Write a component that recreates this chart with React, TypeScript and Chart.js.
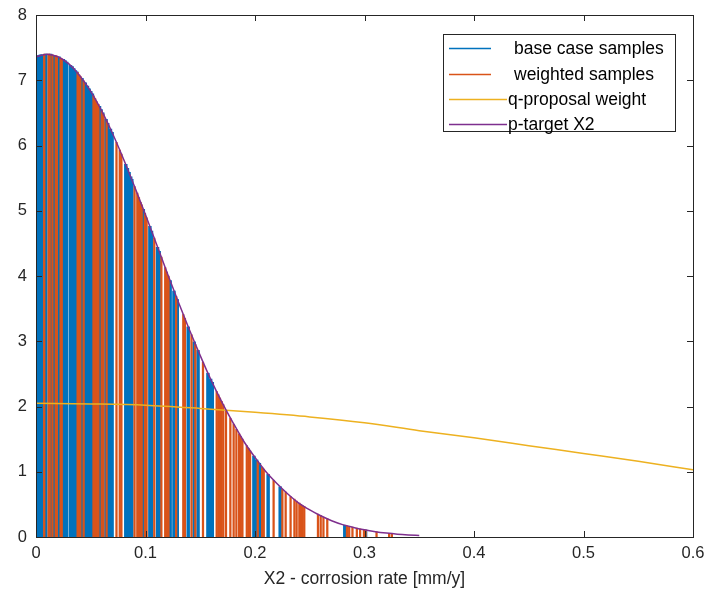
import React, { useEffect, useRef } from "react";
import { Chart, registerables } from "chart.js";

Chart.register(...registerables);

const FONT = '"Liberation Sans", Arial, Helvetica, sans-serif';

// sample positions (mm/y) and their heights (pdf value at sample)
const blueX = [0.0008, 0.0025, 0.004, 0.0055, 0.009, 0.0133, 0.0165, 0.021, 0.025, 0.0265, 0.028, 0.0315, 0.033, 0.0345, 0.036, 0.0372, 0.042, 0.045, 0.047, 0.0485, 0.05, 0.0515, 0.058, 0.0595, 0.061, 0.064, 0.0655, 0.068, 0.0695, 0.082, 0.0835, 0.085, 0.0865, 0.0875, 0.098, 0.104, 0.1055, 0.111, 0.1125, 0.1225, 0.126, 0.129, 0.139, 0.1445, 0.148, 0.157, 0.1595, 0.161, 0.199, 0.2015, 0.204, 0.212, 0.223, 0.282, 0.301];
const blueH = [7.37, 7.38, 7.39, 7.39, 7.40, 7.40, 7.38, 7.36, 7.32, 7.30, 7.28, 7.23, 7.21, 7.18, 7.15, 7.13, 7.03, 6.96, 6.91, 6.87, 6.83, 6.79, 6.60, 6.55, 6.50, 6.40, 6.34, 6.25, 6.20, 5.71, 5.65, 5.59, 5.52, 5.48, 5.02, 4.76, 4.69, 4.44, 4.38, 3.93, 3.77, 3.64, 3.22, 2.99, 2.86, 2.51, 2.42, 2.37, 1.24, 1.18, 1.13, 0.96, 0.77, 0.18, 0.107];

const orangeX = [0.0075, 0.0115, 0.0125, 0.015, 0.018, 0.019, 0.0225, 0.0235, 0.038, 0.0395, 0.0405, 0.0435, 0.0525, 0.054, 0.0555, 0.057, 0.06, 0.0615, 0.0645, 0.0735, 0.0765, 0.078, 0.09, 0.0925, 0.094, 0.0955, 0.0965, 0.0995, 0.101, 0.108, 0.1145, 0.118, 0.1195, 0.121, 0.128, 0.1345, 0.136, 0.142, 0.1455, 0.1525, 0.165, 0.1665, 0.168, 0.1695, 0.171, 0.1735, 0.1775, 0.1805, 0.183, 0.1855, 0.187, 0.1885, 0.1925, 0.194, 0.1955, 0.2025, 0.2065, 0.208, 0.217, 0.225, 0.228, 0.2325, 0.236, 0.238, 0.2405, 0.242, 0.2435, 0.245, 0.2575, 0.26, 0.2625, 0.266, 0.284, 0.286, 0.289, 0.293, 0.296, 0.2995, 0.301, 0.311, 0.3225, 0.325];
const orangeH = [7.40, 7.40, 7.40, 7.39, 7.38, 7.37, 7.34, 7.33, 7.12, 7.08, 7.06, 6.99, 6.76, 6.72, 6.67, 6.63, 6.53, 6.48, 6.38, 6.05, 5.93, 5.87, 5.37, 5.27, 5.20, 5.13, 5.09, 4.96, 4.89, 4.58, 4.29, 4.13, 4.06, 4.00, 3.69, 3.41, 3.35, 3.10, 2.95, 2.68, 2.23, 2.18, 2.13, 2.08, 2.03, 1.94, 1.82, 1.73, 1.65, 1.58, 1.54, 1.50, 1.40, 1.36, 1.32, 1.16, 1.07, 1.04, 0.87, 0.73, 0.69, 0.62, 0.58, 0.55, 0.52, 0.50, 0.48, 0.47, 0.35, 0.33, 0.30, 0.28, 0.17, 0.16, 0.15, 0.135, 0.124, 0.11, 0.107, 0.08, 0.056, 0.052];

const qX = [0, 0.05, 0.1, 0.15, 0.2, 0.25, 0.3, 0.35, 0.4, 0.45, 0.5, 0.55, 0.6];
const qY = [2.05, 2.04, 2.02, 1.97, 1.91, 1.84, 1.75, 1.63, 1.52, 1.40, 1.28, 1.16, 1.03];

const pX = [0, 0.01, 0.02, 0.03, 0.04, 0.05, 0.06, 0.07, 0.08, 0.09, 0.1, 0.11, 0.12, 0.13, 0.14, 0.15, 0.16, 0.17, 0.18, 0.19, 0.2, 0.21, 0.22, 0.23, 0.24, 0.25, 0.26, 0.27, 0.28, 0.29, 0.3, 0.31, 0.32, 0.33, 0.34, 0.35];
const pY = [7.36, 7.40, 7.36, 7.25, 7.07, 6.83, 6.53, 6.18, 5.79, 5.37, 4.94, 4.49, 4.04, 3.60, 3.18, 2.78, 2.40, 2.06, 1.75, 1.46, 1.22, 1.00, 0.82, 0.66, 0.52, 0.415, 0.325, 0.25, 0.19, 0.147, 0.11, 0.082, 0.061, 0.044, 0.032, 0.023];

const xTicks = [0, 0.1, 0.2, 0.3, 0.4, 0.5, 0.6];
const yTicks = [0, 1, 2, 3, 4, 5, 6, 7, 8];
const seriesLabels = ["base case samples", "weighted samples", "q-proposal weight", "p-target X2"];
const seriesColors = ["#0072BD", "#D95319", "#EDB120", "#7E2F8E"];
const xTitle = "X2 - corrosion rate [mm/y]";

const AXIS = "#262626";

const axesPlugin = {
  id: "matlabAxes",
  afterDatasetsDraw(chart: any) {
    const { ctx, chartArea: a, scales } = chart;
    const tl = 6;
    ctx.save();
    ctx.strokeStyle = AXIS;
    ctx.lineWidth = 1;
    ctx.beginPath();
    for (const v of xTicks) {
      const px = Math.round(scales.x.getPixelForValue(v)) + 0.5;
      ctx.moveTo(px, a.bottom);
      ctx.lineTo(px, a.bottom - tl);
      ctx.moveTo(px, a.top);
      ctx.lineTo(px, a.top + tl);
    }
    for (const v of yTicks) {
      const py = Math.round(scales.y.getPixelForValue(v)) + 0.5;
      ctx.moveTo(a.left, py);
      ctx.lineTo(a.left + tl, py);
      ctx.moveTo(a.right, py);
      ctx.lineTo(a.right - tl, py);
    }
    ctx.stroke();
    ctx.strokeRect(Math.round(a.left) + 0.5, Math.round(a.top) + 0.5, Math.round(a.right - a.left), Math.round(a.bottom - a.top));
    ctx.restore();
  },
  afterDraw(chart: any) {
    const { ctx } = chart;
    const bx = 443, by = 34, bw = 232, bh = 97;
    ctx.save();
    ctx.fillStyle = "#ffffff";
    ctx.fillRect(bx, by, bw, bh);
    ctx.strokeStyle = AXIS;
    ctx.lineWidth = 1;
    ctx.strokeRect(bx + 0.5, by + 0.5, bw, bh);
    const rows = [48, 74, 99, 124];
    const lineEnd = [491, 491, 507, 507];
    const textX = [514, 514, 508, 508];
    ctx.font = `17.5px ${FONT}`;
    ctx.textBaseline = "middle";
    ctx.textAlign = "left";
    for (let i = 0; i < 4; i++) {
      ctx.strokeStyle = seriesColors[i];
      ctx.lineWidth = 1.5;
      ctx.beginPath();
      ctx.moveTo(449, rows[i] + 0.5);
      ctx.lineTo(lineEnd[i], rows[i] + 0.5);
      ctx.stroke();
      ctx.fillStyle = "#000000";
      ctx.fillText(seriesLabels[i], textX[i], rows[i] + 1);
    }
    ctx.restore();
  },
};

export default function App() {
  const ref = useRef<HTMLCanvasElement | null>(null);
  useEffect(() => {
    if (!ref.current) return;
    const chart = new Chart(ref.current, {
      type: "bar",
      data: {
        datasets: [
          {
            type: "bar",
            label: seriesLabels[0],
            data: blueX.map((x, i) => ({ x, y: blueH[i] })),
            backgroundColor: seriesColors[0],
            borderWidth: 0,
            barThickness: 2.8,
            grouped: false,
            order: 4,
          } as any,
          {
            type: "bar",
            label: seriesLabels[1],
            data: orangeX.map((x, i) => ({ x, y: orangeH[i] })),
            backgroundColor: seriesColors[1],
            borderWidth: 0,
            barThickness: 1.6,
            grouped: false,
            order: 3,
          } as any,
          {
            type: "line",
            label: seriesLabels[2],
            data: qX.map((x, i) => ({ x, y: qY[i] })),
            borderColor: seriesColors[2],
            borderWidth: 1.5,
            pointRadius: 0,
            cubicInterpolationMode: "monotone",
            order: 2,
          } as any,
          {
            type: "line",
            label: seriesLabels[3],
            data: pX.map((x, i) => ({ x, y: pY[i] })),
            borderColor: seriesColors[3],
            borderWidth: 1.5,
            pointRadius: 0,
            cubicInterpolationMode: "monotone",
            order: 1,
          } as any,
        ],
      },
      options: {
        responsive: false,
        animation: false,
        layout: { padding: { top: 15, right: 15, left: 0, bottom: 0 } },
        plugins: { legend: { display: false }, tooltip: { enabled: false } },
        scales: {
          x: {
            type: "linear",
            min: 0,
            max: 0.6,
            offset: false,
            afterBuildTicks: (s: any) => {
              s.ticks = xTicks.map((v) => ({ value: v }));
            },
            afterFit: (s: any) => {
              s.height = 64;
              s.paddingLeft = 0;
              s.paddingRight = 0;
            },
            ticks: {
              autoSkip: false,
              maxRotation: 0,
              padding: 7,
              color: AXIS,
              font: { family: FONT, size: 16.5 },
              callback: (v: any) => String(v),
            },
            grid: { display: false, drawTicks: false },
            border: { display: false },
            title: {
              display: true,
              text: xTitle,
              color: AXIS,
              font: { family: FONT, size: 17.5 },
              padding: { top: 0, bottom: 11 },
            },
          },
          y: {
            type: "linear",
            min: 0,
            max: 8,
            afterBuildTicks: (s: any) => {
              s.ticks = yTicks.map((v) => ({ value: v }));
            },
            afterFit: (s: any) => {
              s.width = 36;
              s.paddingTop = 0;
              s.paddingBottom = 0;
            },
            ticks: {
              padding: 9,
              color: AXIS,
              font: { family: FONT, size: 16.5 },
              callback: (v: any) => String(v),
            },
            grid: { display: false, drawTicks: false },
            border: { display: false },
          },
        },
      },
      plugins: [axesPlugin],
    } as any);
    return () => chart.destroy();
  }, []);
  return (
    <div style={{ position: "absolute", left: 0, top: 0, width: 708, height: 601, background: "#fff" }}>
      <canvas ref={ref} width={708} height={601} style={{ display: "block" }} />
    </div>
  );
}
